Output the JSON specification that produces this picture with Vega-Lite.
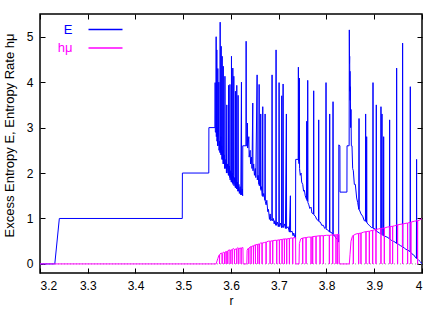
{
"$schema": "https://vega.github.io/schema/vega-lite/v6.json",
"width": 382, "height": 259,
"autosize": "none",
"padding": {"left": 40, "top": 14, "right": 21, "bottom": 37},
"background": "white",
"config": {
 "font": "Liberation Sans",
 "view": {"stroke": "black", "strokeWidth": 1.5},
 "axis": {"labelFont": "Liberation Sans", "labelFontSize": 12, "labelColor": "black", "titleFont": "Liberation Sans", "titleFontSize": 12, "titleFontWeight": "normal", "titleColor": "black", "tickColor": "black", "tickWidth": 1, "tickSize": -5, "domain": false, "grid": false}
},
"datasets": {
 "E": [
{"r":3.2,"v":0},{"r":3.231,"v":0},{"r":3.2405,"v":1},{"r":3.498,"v":1},{"r":3.4982,"v":2},{"r":3.5535,"v":2},{"r":3.5537,"v":3},{"r":3.5664,"v":3},
{"r":3.5668,"v":3.99},{"r":3.5672,"v":2.9},{"r":3.5686,"v":2.9},{"r":3.5689,"v":5.0},{"r":3.5693,"v":2.8},{"r":3.5699,"v":3.3},{"r":3.5703,"v":4.71},{"r":3.5707,"v":2.7},{"r":3.5716,"v":3.0},{"r":3.572,"v":2.6},{"r":3.5724,"v":4.3},{"r":3.5728,"v":2.6},{"r":3.5738,"v":2.9},{"r":3.5745,"v":4.0},{"r":3.5749,"v":2.5},{"r":3.5762,"v":2.7},{"r":3.577,"v":2.45},{"r":3.5773,"v":5.32},{"r":3.5777,"v":2.45},{"r":3.5786,"v":2.8},{"r":3.579,"v":2.4},{"r":3.5794,"v":4.79},{"r":3.5798,"v":2.4},{"r":3.5806,"v":2.6},{"r":3.5812,"v":2.3},{"r":3.5815,"v":4.57},{"r":3.5819,"v":2.3},{"r":3.583,"v":2.5},{"r":3.5836,"v":2.2},{"r":3.5838,"v":4.35},{"r":3.5842,"v":2.2},{"r":3.5855,"v":2.4},{"r":3.587,"v":2.1},{"r":3.5873,"v":4.13},{"r":3.5877,"v":2.1},{"r":3.5895,"v":2.3},{"r":3.5905,"v":2.0},{"r":3.5912,"v":3.5},{"r":3.5916,"v":2.0},{"r":3.593,"v":2.2},{"r":3.5946,"v":1.95},{"r":3.595,"v":3.93},{"r":3.5954,"v":1.95},{"r":3.5968,"v":2.15},{"r":3.5975,"v":1.9},{"r":3.5978,"v":3.95},{"r":3.5982,"v":1.85},{"r":3.5996,"v":2.05},{"r":3.6006,"v":1.8},{"r":3.601,"v":4.57},{"r":3.6014,"v":1.8},{"r":3.6025,"v":2.0},{"r":3.6034,"v":1.78},{"r":3.6038,"v":4.31},{"r":3.6042,"v":1.75},{"r":3.6055,"v":1.95},{"r":3.6059,"v":4.13},{"r":3.6063,"v":1.72},{"r":3.6075,"v":1.9},{"r":3.609,"v":1.68},{"r":3.6093,"v":3.8},{"r":3.6097,"v":1.68},{"r":3.6107,"v":1.85},{"r":3.6117,"v":1.65},{"r":3.6121,"v":3.93},{"r":3.6125,"v":1.65},{"r":3.6135,"v":1.8},{"r":3.6145,"v":1.6},{"r":3.6149,"v":3.71},{"r":3.6153,"v":1.6},{"r":3.6165,"v":1.75},{"r":3.6175,"v":1.55},{"r":3.6191,"v":1.7},{"r":3.6205,"v":1.52},{"r":3.6219,"v":4.0},{"r":3.6223,"v":1.52},{"r":3.6235,"v":1.65},{"r":3.6244,"v":1.5},{"r":3.6247,"v":2.6},{"r":3.6314,"v":2.6},{"r":3.6317,"v":4.9},{"r":3.6321,"v":2.6},{"r":3.6342,"v":2.6},{"r":3.6345,"v":3.1},{"r":3.6349,"v":2.55},{"r":3.6373,"v":2.8},{"r":3.638,"v":2.35},{"r":3.6401,"v":2.5},{"r":3.641,"v":2.2},{"r":3.6428,"v":2.35},{"r":3.644,"v":2.1},{"r":3.6456,"v":3.54},{"r":3.646,"v":2.05},{"r":3.6475,"v":2.2},{"r":3.6491,"v":1.95},{"r":3.651,"v":2.1},{"r":3.652,"v":1.9},{"r":3.6547,"v":4.16},{"r":3.6551,"v":1.85},{"r":3.6568,"v":1.95},{"r":3.6585,"v":1.75},{"r":3.6589,"v":3.95},{"r":3.6593,"v":1.72},{"r":3.661,"v":1.85},{"r":3.6619,"v":1.65},{"r":3.6623,"v":3.3},{"r":3.6627,"v":1.62},{"r":3.664,"v":1.7},{"r":3.6655,"v":1.5},{"r":3.6665,"v":3.46},{"r":3.6669,"v":1.48},{"r":3.6686,"v":1.55},{"r":3.671,"v":1.4},{"r":3.6714,"v":3.3},{"r":3.6718,"v":1.38},{"r":3.6735,"v":1.3},{"r":3.675,"v":1.4},{"r":3.677,"v":1.15},{"r":3.6785,"v":1.2},{"r":3.6805,"v":0.98},{"r":3.682,"v":1.1},{"r":3.6833,"v":0.95},{"r":3.6856,"v":1.0},{"r":3.686,"v":4.16},{"r":3.6864,"v":0.95},{"r":3.6888,"v":1.0},{"r":3.6905,"v":0.88},{"r":3.6916,"v":0.95},{"r":3.694,"v":0.85},{"r":3.6944,"v":4.71},{"r":3.6948,"v":0.85},{"r":3.6972,"v":0.92},{"r":3.699,"v":0.82},{"r":3.7003,"v":0.9},{"r":3.7007,"v":3.99},{"r":3.7011,"v":0.82},{"r":3.7035,"v":0.9},{"r":3.7059,"v":0.8},{"r":3.7063,"v":3.7},{"r":3.7067,"v":0.8},{"r":3.7087,"v":0.85},{"r":3.7091,"v":3.96},{"r":3.7095,"v":0.8},{"r":3.7126,"v":0.88},{"r":3.714,"v":0.78},{"r":3.716,"v":3.3},{"r":3.7164,"v":0.78},{"r":3.7195,"v":0.82},{"r":3.7223,"v":0.7},{"r":3.7244,"v":1.5},{"r":3.7248,"v":0.7},{"r":3.7279,"v":0.72},{"r":3.73,"v":0.62},{"r":3.7314,"v":0.68},{"r":3.734,"v":0.58},{"r":3.7352,"v":0.55},{"r":3.7355,"v":2.3},{"r":3.7407,"v":2.3},{"r":3.7411,"v":4.33},{"r":3.7415,"v":2.25},{"r":3.7428,"v":2.2},{"r":3.7432,"v":4.09},{"r":3.7436,"v":2.1},{"r":3.745,"v":1.95},{"r":3.7467,"v":2.0},{"r":3.748,"v":1.8},{"r":3.7502,"v":1.75},{"r":3.752,"v":1.6},{"r":3.7537,"v":1.62},{"r":3.7555,"v":1.5},{"r":3.7572,"v":1.45},{"r":3.7582,"v":1.42},{"r":3.7586,"v":3.14},{"r":3.759,"v":1.4},{"r":3.7603,"v":1.38},{"r":3.7607,"v":4.04},{"r":3.7611,"v":1.35},{"r":3.763,"v":1.3},{"r":3.765,"v":1.22},{"r":3.7677,"v":1.25},{"r":3.7695,"v":1.12},{"r":3.7728,"v":1.1},{"r":3.7732,"v":3.81},{"r":3.7736,"v":1.08},{"r":3.7767,"v":1.05},{"r":3.7795,"v":0.98},{"r":3.7833,"v":0.95},{"r":3.7837,"v":3.17},{"r":3.7841,"v":0.93},{"r":3.7872,"v":0.92},{"r":3.79,"v":0.85},{"r":3.7934,"v":0.85},{"r":3.7962,"v":0.78},{"r":3.7986,"v":0.8},{"r":3.799,"v":3.99},{"r":3.7994,"v":0.76},{"r":3.8025,"v":0.75},{"r":3.8063,"v":0.7},{"r":3.8067,"v":3.3},{"r":3.8071,"v":0.7},{"r":3.8095,"v":0.7},{"r":3.8133,"v":0.65},{"r":3.8137,"v":3.57},{"r":3.8141,"v":0.63},{"r":3.8172,"v":0.62},{"r":3.8199,"v":0.56},{"r":3.8234,"v":0.55},{"r":3.8255,"v":0.48},{"r":3.8258,"v":2.62},{"r":3.8281,"v":2.6},{"r":3.8283,"v":1.58},{"r":3.8428,"v":1.58},{"r":3.843,"v":2.6},{"r":3.8474,"v":2.6},{"r":3.8478,"v":5.15},{"r":3.8482,"v":4.4},{"r":3.8485,"v":4.57},{"r":3.8489,"v":3.8},{"r":3.8492,"v":4.24},{"r":3.8496,"v":3.6},{"r":3.8499,"v":3.9},{"r":3.8506,"v":3.0},{"r":3.8513,"v":3.4},{"r":3.852,"v":2.6},{"r":3.8534,"v":2.6},{"r":3.8548,"v":2.1},{"r":3.8562,"v":2.05},{"r":3.8583,"v":1.75},{"r":3.8604,"v":1.75},{"r":3.8632,"v":1.45},{"r":3.8653,"v":1.35},{"r":3.8677,"v":1.2},{"r":3.8681,"v":3.2},{"r":3.8685,"v":1.2},{"r":3.8722,"v":1.1},{"r":3.8757,"v":1.05},{"r":3.8792,"v":0.95},{"r":3.8816,"v":0.95},{"r":3.882,"v":3.3},{"r":3.8824,"v":0.93},{"r":3.8838,"v":0.92},{"r":3.8841,"v":2.8},{"r":3.8845,"v":0.92},{"r":3.8862,"v":0.88},{"r":3.8897,"v":0.85},{"r":3.8939,"v":0.8},{"r":3.897,"v":0.8},{"r":3.8974,"v":3.99},{"r":3.8978,"v":0.78},{"r":3.9008,"v":0.78},{"r":3.9039,"v":0.72},{"r":3.9043,"v":3.5},{"r":3.9047,"v":0.72},{"r":3.9078,"v":0.7},{"r":3.9106,"v":0.68},{"r":3.9137,"v":0.66},{"r":3.9141,"v":3.46},{"r":3.9145,"v":0.65},{"r":3.9158,"v":0.65},{"r":3.9162,"v":3.3},{"r":3.9166,"v":0.64},{"r":3.9193,"v":0.62},{"r":3.9197,"v":2.8},{"r":3.9201,"v":0.62},{"r":3.9246,"v":0.6},{"r":3.9287,"v":0.58},{"r":3.9318,"v":0.55},{"r":3.9322,"v":3.17},{"r":3.9326,"v":0.55},{"r":3.9357,"v":0.52},{"r":3.9399,"v":0.5},{"r":3.9434,"v":0.48},{"r":3.9465,"v":0.45},{"r":3.9469,"v":4.31},{"r":3.9473,"v":0.45},{"r":3.9511,"v":0.43},{"r":3.9552,"v":0.4},{"r":3.959,"v":0.38},{"r":3.9594,"v":4.86},{"r":3.9598,"v":0.37},{"r":3.9629,"v":0.35},{"r":3.9664,"v":0.32},{"r":3.9706,"v":0.3},{"r":3.9751,"v":0.27},{"r":3.9755,"v":3.9},{"r":3.9759,"v":0.26},{"r":3.979,"v":0.22},{"r":3.9824,"v":0.2},{"r":3.9859,"v":0.15},{"r":3.9883,"v":0.12},{"r":3.9887,"v":2.3},{"r":3.9891,"v":0.12},{"r":3.9915,"v":0.1},{"r":3.9943,"v":0.07},{"r":3.9972,"v":0.04},{"r":4.0,"v":0.0}
 ],
 "h": [
{"r":3.2,"v":0},{"r":3.5689,"v":0},{"r":3.5724,"v":0.12},{"r":3.5745,"v":0.18},
{"r":3.5756,"v":0.2},{"r":3.5759,"v":0},{"r":3.5762,"v":0.2},
{"r":3.579,"v":0.24},{"r":3.5812,"v":0.23},{"r":3.5815,"v":0},{"r":3.5818,"v":0.23},
{"r":3.584,"v":0.26},{"r":3.586,"v":0.25},{"r":3.5863,"v":0},{"r":3.5866,"v":0.25},
{"r":3.5895,"v":0.27},{"r":3.5898,"v":0},{"r":3.5901,"v":0.27},
{"r":3.593,"v":0.28},{"r":3.5933,"v":0},{"r":3.5936,"v":0.28},
{"r":3.5955,"v":0.31},{"r":3.5979,"v":0.3},{"r":3.5982,"v":0},{"r":3.5985,"v":0.3},
{"r":3.6021,"v":0.31},{"r":3.6024,"v":0},{"r":3.6027,"v":0.31},
{"r":3.6045,"v":0.34},{"r":3.607,"v":0.32},{"r":3.6073,"v":0},{"r":3.6076,"v":0.32},
{"r":3.6118,"v":0.33},{"r":3.6121,"v":0},{"r":3.6124,"v":0.33},
{"r":3.614,"v":0.36},{"r":3.616,"v":0.34},{"r":3.6163,"v":0},{"r":3.6166,"v":0.34},
{"r":3.6209,"v":0.35},{"r":3.6212,"v":0},{"r":3.6215,"v":0.35},
{"r":3.625,"v":0.36},{"r":3.6254,"v":0},{"r":3.6331,"v":0},{"r":3.6338,"v":0.3},{"r":3.6352,"v":0.33},
{"r":3.637,"v":0.35},{"r":3.6373,"v":0},{"r":3.6376,"v":0.35},
{"r":3.64,"v":0.37},{"r":3.6418,"v":0.38},{"r":3.6421,"v":0},{"r":3.6424,"v":0.38},
{"r":3.6467,"v":0.4},{"r":3.647,"v":0},{"r":3.6473,"v":0.4},
{"r":3.6509,"v":0.42},{"r":3.6512,"v":0},{"r":3.6515,"v":0.42},
{"r":3.6558,"v":0.43},{"r":3.6561,"v":0},{"r":3.6564,"v":0.43},
{"r":3.6593,"v":0.44},{"r":3.6596,"v":0},{"r":3.6599,"v":0.44},
{"r":3.662,"v":0.46},{"r":3.6648,"v":0.46},{"r":3.6651,"v":0},{"r":3.6654,"v":0.46},
{"r":3.67,"v":0.47},{"r":3.6732,"v":0.48},{"r":3.6735,"v":0},{"r":3.6738,"v":0.48},
{"r":3.678,"v":0.5},{"r":3.6816,"v":0.5},{"r":3.6819,"v":0},{"r":3.6822,"v":0.5},
{"r":3.6871,"v":0.51},{"r":3.6874,"v":0},{"r":3.6877,"v":0.51},
{"r":3.692,"v":0.52},{"r":3.6955,"v":0.52},{"r":3.6958,"v":0},{"r":3.6961,"v":0.52},
{"r":3.7011,"v":0.53},{"r":3.7014,"v":0},{"r":3.7017,"v":0.53},
{"r":3.7067,"v":0.54},{"r":3.707,"v":0},{"r":3.7073,"v":0.54},
{"r":3.7116,"v":0.55},{"r":3.7119,"v":0},{"r":3.7122,"v":0.55},
{"r":3.7164,"v":0.55},{"r":3.7167,"v":0},{"r":3.717,"v":0.55},
{"r":3.722,"v":0.56},{"r":3.7223,"v":0},{"r":3.7226,"v":0.56},
{"r":3.726,"v":0.57},{"r":3.729,"v":0.57},{"r":3.7293,"v":0},{"r":3.7296,"v":0.57},
{"r":3.733,"v":0.58},{"r":3.7352,"v":0.58},{"r":3.7356,"v":0},{"r":3.7425,"v":0},{"r":3.7432,"v":0.45},{"r":3.746,"v":0.55},
{"r":3.7499,"v":0.57},{"r":3.7502,"v":0},{"r":3.7505,"v":0.57},
{"r":3.7569,"v":0.58},{"r":3.7572,"v":0},{"r":3.7575,"v":0.58},
{"r":3.762,"v":0.59},{"r":3.7674,"v":0.59},{"r":3.7677,"v":0},{"r":3.768,"v":0.59},
{"r":3.7708,"v":0.6},{"r":3.7711,"v":0},{"r":3.7714,"v":0.6},
{"r":3.7778,"v":0.61},{"r":3.7781,"v":0},{"r":3.7784,"v":0.61},
{"r":3.7862,"v":0.62},{"r":3.7865,"v":0},{"r":3.7868,"v":0.62},
{"r":3.7931,"v":0.62},{"r":3.7934,"v":0},{"r":3.7937,"v":0.62},
{"r":3.8,"v":0.63},{"r":3.8057,"v":0.63},{"r":3.806,"v":0},{"r":3.8063,"v":0.63},
{"r":3.8127,"v":0.64},{"r":3.813,"v":0},{"r":3.8133,"v":0.64},
{"r":3.8196,"v":0.64},{"r":3.8199,"v":0},{"r":3.8202,"v":0.64},
{"r":3.8231,"v":0.65},{"r":3.8234,"v":0},{"r":3.8237,"v":0.65},
{"r":3.8262,"v":0.65},{"r":3.8269,"v":0},{"r":3.8478,"v":0},{"r":3.8492,"v":0.2},{"r":3.8513,"v":0.5},{"r":3.854,"v":0.6},
{"r":3.8559,"v":0.63},{"r":3.8562,"v":0},{"r":3.8565,"v":0.63},
{"r":3.862,"v":0.66},{"r":3.8671,"v":0.67},{"r":3.8674,"v":0},{"r":3.8677,"v":0.67},
{"r":3.8719,"v":0.68},{"r":3.8722,"v":0},{"r":3.8725,"v":0.68},
{"r":3.878,"v":0.7},{"r":3.8824,"v":0.71},{"r":3.8827,"v":0},{"r":3.883,"v":0.71},
{"r":3.8894,"v":0.72},{"r":3.8897,"v":0},{"r":3.89,"v":0.72},
{"r":3.8964,"v":0.74},{"r":3.8967,"v":0},{"r":3.897,"v":0.74},
{"r":3.9033,"v":0.76},{"r":3.9036,"v":0},{"r":3.9039,"v":0.76},
{"r":3.909,"v":0.77},{"r":3.9138,"v":0.78},{"r":3.9141,"v":0},{"r":3.9144,"v":0.78},
{"r":3.9208,"v":0.79},{"r":3.9211,"v":0},{"r":3.9214,"v":0.79},
{"r":3.927,"v":0.81},{"r":3.9326,"v":0.82},{"r":3.9329,"v":0},{"r":3.9332,"v":0.82},
{"r":3.9382,"v":0.83},{"r":3.9385,"v":0},{"r":3.9388,"v":0.83},
{"r":3.943,"v":0.84},{"r":3.9486,"v":0.86},{"r":3.9489,"v":0},{"r":3.9492,"v":0.86},
{"r":3.9591,"v":0.88},{"r":3.9594,"v":0},{"r":3.9597,"v":0.88},
{"r":3.9696,"v":0.9},{"r":3.9699,"v":0},{"r":3.9702,"v":0.9},
{"r":3.9765,"v":0.92},{"r":3.9768,"v":0},{"r":3.9771,"v":0.92},
{"r":3.984,"v":0.94},{"r":3.9905,"v":0.95},{"r":3.9908,"v":0},{"r":3.9911,"v":0.95},
{"r":3.996,"v":0.97},{"r":4.0,"v":1.0}
 ],
 "zero": [{"z": 0}]
},
"layer": [
 {
  "data": {"name": "zero"},
  "mark": {"type": "rule", "stroke": "#a0a0a0", "strokeWidth": 1, "strokeDash": [1, 2]},
  "encoding": {"y": {"field": "z", "type": "quantitative", "scale": {"domain": [-0.2, 5.5], "nice": false, "zero": false}, "axis": null}}
 },
 {
  "data": {"name": "E"},
  "mark": {"type": "line", "strokeWidth": 1, "clip": true},
  "encoding": {
   "x": {"field": "r", "type": "quantitative", "scale": {"domain": [3.2, 4.0], "nice": false, "zero": false},
         "axis": {"orient": "bottom", "values": [3.2, 3.3, 3.4, 3.5, 3.6, 3.7, 3.8, 3.9, 4.0], "format": "~g", "title": "r", "labelPadding": 12, "titlePadding": 4}},
   "y": {"field": "v", "type": "quantitative", "scale": {"domain": [-0.2, 5.5], "nice": false, "zero": false},
         "axis": {"orient": "left", "values": [0, 1, 2, 3, 4, 5], "format": "d", "title": "Excess Entropy E, Entropy Rate hμ", "titleFontSize": 13, "labelPadding": 12, "titleX": -24, "titleY": 121}},
   "color": {"datum": "E", "type": "nominal", "scale": {"domain": ["E", "hμ"], "range": ["#0000ff", "#ff00ff"]},
             "legend": {"orient": "none", "legendX": 47.5, "legendY": 6, "title": null, "symbolType": "M-1,0H3", "symbolSize": 289, "symbolStrokeWidth": 1.5, "symbolFillColor": "transparent", "labelFontSize": 13, "labelFont": "Liberation Sans", "labelAlign": "right", "labelOffset": -34, "rowPadding": 1.5, "padding": 0,
                        "encode": {"labels": {"update": {"fill": {"scale": "color", "field": "value"}}}}}}
  }
 },
 {
  "data": {"name": "h"},
  "mark": {"type": "line", "strokeWidth": 1, "clip": true},
  "encoding": {
   "x": {"field": "r", "type": "quantitative", "scale": {"domain": [3.2, 4.0], "nice": false, "zero": false},
         "axis": {"orient": "top", "values": [3.2, 3.3, 3.4, 3.5, 3.6, 3.7, 3.8, 3.9, 4.0], "labels": false, "title": null}},
   "y": {"field": "v", "type": "quantitative", "scale": {"domain": [-0.2, 5.5], "nice": false, "zero": false},
         "axis": {"orient": "right", "values": [0, 1, 2, 3, 4, 5], "labels": false, "title": null}},
   "color": {"datum": "hμ", "type": "nominal"}
  }
 }
],
"resolve": {"axis": {"x": "independent", "y": "independent"}}
}
